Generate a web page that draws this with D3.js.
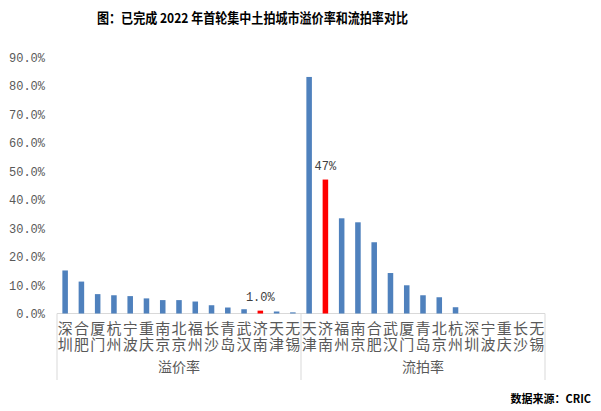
<!DOCTYPE html>
<html><head><meta charset="utf-8">
<script src="https://cdn.jsdelivr.net/npm/d3@7"></script>
<style>body{margin:0;background:#fff;}svg{display:block;}</style>
</head><body><svg id="c" width="601" height="411"></svg>
<script>
const groups = ["溢价率", "流拍率"];
const premiumCities = ["深圳","合肥","厦门","杭州","宁波","重庆","南京","北京","福州","长沙","青岛","武汉","济南","天津","无锡"];
const premiumValues = [15.1, 11.2, 6.8, 6.4, 6.1, 5.3, 4.7, 4.7, 4.2, 2.9, 2.1, 1.5, 1.0, 0.7, 0.4];
const failCities = ["天津","济南","福州","南京","合肥","武汉","厦门","青岛","北京","杭州","深圳","宁波","重庆","长沙","无锡"];
const failValues = [83.0, 47.0, 33.4, 32.0, 25.0, 14.2, 9.9, 6.4, 5.7, 2.2, 0, 0, 0, 0, 0];
const yTicks = [0,10,20,30,40,50,60,70,80,90];
const highlightCity = "济南";
const dataLabels = {"溢价率": "1.0%", "流拍率": "47%"};

(function(){
const rows = [];
premiumCities.forEach((c,i)=>rows.push({g:groups[0], city:c, v:premiumValues[i], key:groups[0]+c}));
failCities.forEach((c,i)=>rows.push({g:groups[1], city:c, v:failValues[i], key:groups[1]+c}));

const svg = d3.select("#c");
const pl = 57, pr = 545, pt = 57, pb = 313.5;
const x = d3.scaleBand().domain(rows.map(d=>d.key)).range([pl,pr]).paddingInner(0.66).paddingOuter(0.33);
const y = d3.scaleLinear().domain([0,90]).range([pb, pt]);

svg.append("text").attr("x",97).attr("y",23)
  .attr("textLength",311).attr("lengthAdjust","spacingAndGlyphs")
  .attr("font-family","'Noto Sans CJK SC', sans-serif").attr("font-weight","bold").attr("font-size","13.5px")
  .attr("fill","#000").text("图：已完成 2022 年首轮集中土拍城市溢价率和流拍率对比");

const yAxis = d3.axisLeft(y).tickValues(yTicks).tickFormat(d=>d.toFixed(1)+"%").tickSize(0).tickPadding(0);
const ya = svg.append("g").attr("transform","translate(45,0)").call(yAxis);
ya.select(".domain").remove();
ya.selectAll("text").attr("font-family","'Liberation Mono', monospace").attr("font-size","12px").attr("fill","#595959").attr("dy","0.35em");

const xa = d3.axisBottom(x).tickSize(0).tickFormat("");
const xg = svg.append("g").attr("transform",`translate(0,${pb})`).call(xa);
xg.select(".domain").attr("stroke","#d9d9d9").attr("d",`M${pl},0H${pr}`);

const step = x.step();
const bounds = [pl, x(rows[15].key) - (step - x.bandwidth())/2, pr];
bounds.forEach(b=>{
  svg.append("line").attr("x1",b).attr("x2",b).attr("y1",pb).attr("y2",380)
    .attr("stroke","#d9d9d9").attr("stroke-width",1);
});

svg.append("g").selectAll("rect").data(rows).join("rect")
  .attr("x",d=>x(d.key)).attr("width",x.bandwidth())
  .attr("y",d=>y(d.v)).attr("height",d=>y(0)-y(d.v))
  .attr("fill",d=>d.city===highlightCity?"#ff0000":"#4f81bd");

svg.append("g").selectAll("text").data(rows).join("text")
  .attr("x",d=>x(d.key)+x.bandwidth()/2).attr("y",321)
  .style("writing-mode","vertical-rl").style("text-orientation","upright")
  .attr("letter-spacing","0.5px")
  .attr("font-family","'Noto Sans CJK SC', sans-serif").attr("font-size","15px").attr("fill","#595959")
  .text(d=>d.city);

groups.forEach((g,i)=>{
  svg.append("text").attr("x",(bounds[i]+bounds[i+1])/2).attr("y",372).attr("text-anchor","middle")
    .attr("font-family","'Noto Sans CJK SC', sans-serif").attr("font-size","14px").attr("fill","#595959").text(g);
});

rows.filter(d=>d.city===highlightCity).forEach(d=>{
  svg.append("text").attr("x",x(d.key)+x.bandwidth()/2).attr("y",y(d.v)-10).attr("text-anchor","middle")
    .attr("font-family","'Liberation Mono', monospace").attr("font-size","12px").attr("fill","#404040")
    .text(dataLabels[d.g]);
});

svg.append("text").attr("x",591).attr("y",403).attr("text-anchor","end")
  .attr("font-family","'Noto Sans CJK SC', sans-serif").attr("font-weight","bold").attr("font-size","11px").attr("fill","#000")
  .text("数据来源：CRIC");
})();
</script></body></html>
